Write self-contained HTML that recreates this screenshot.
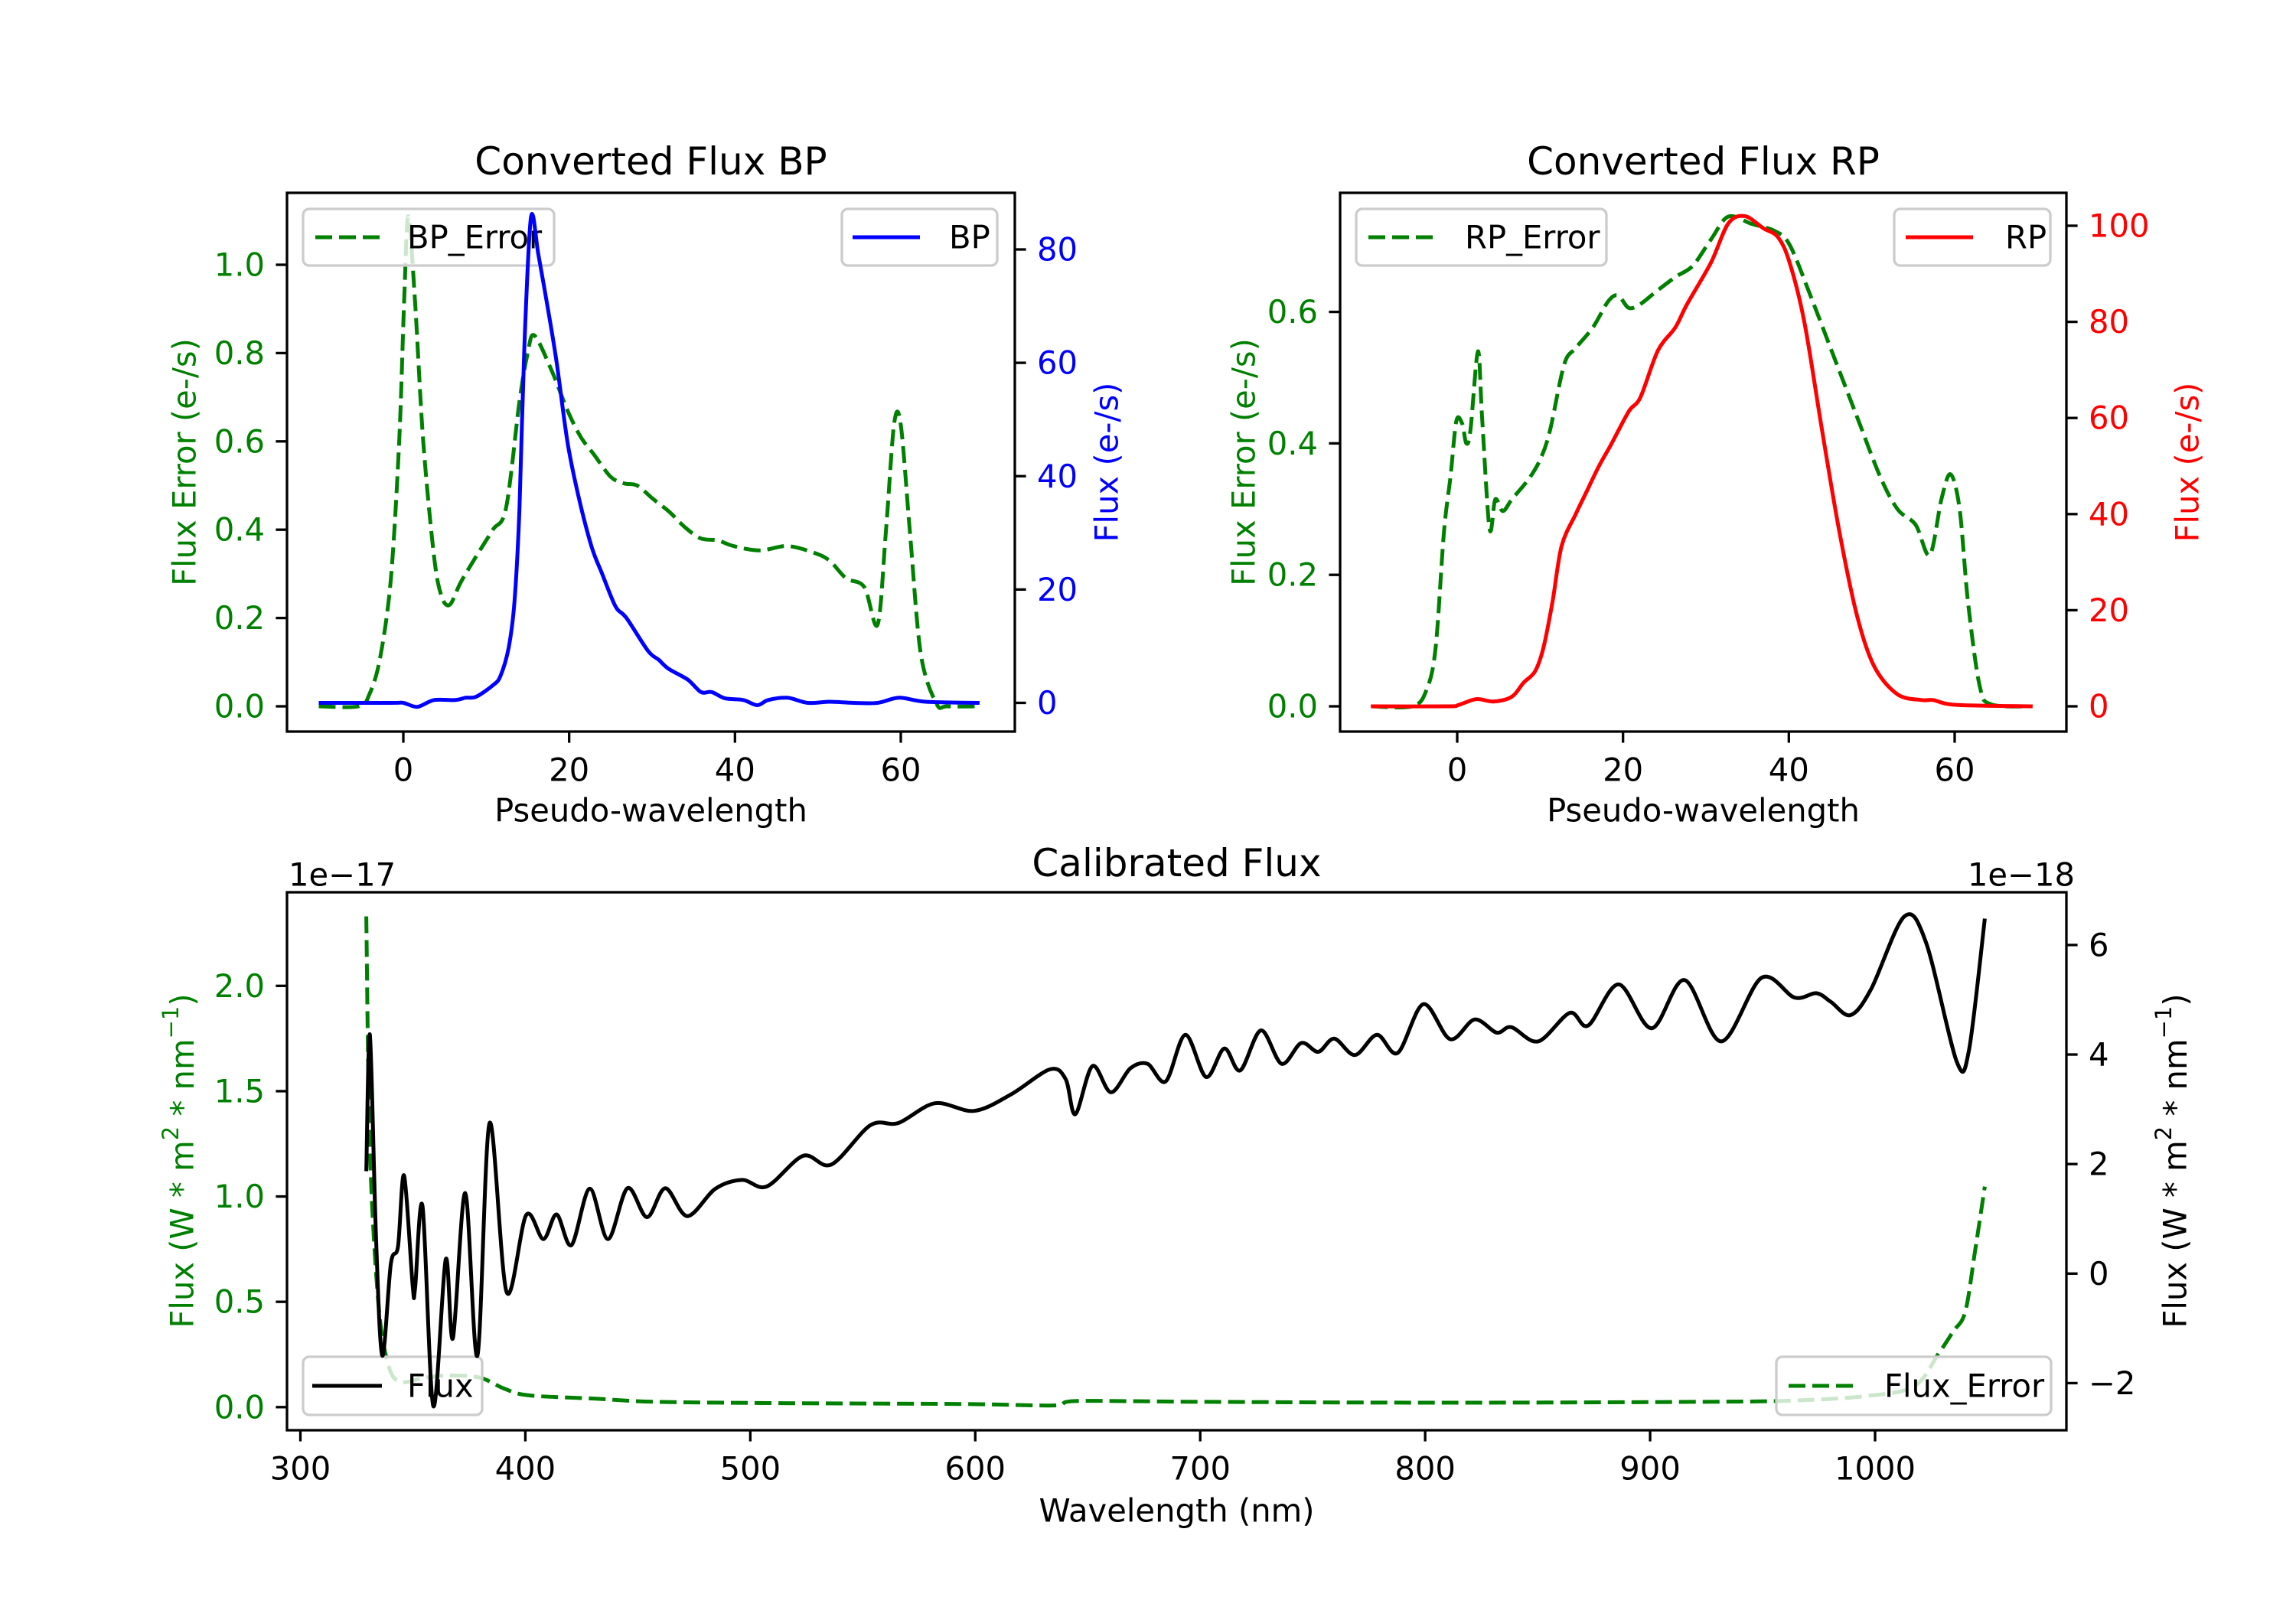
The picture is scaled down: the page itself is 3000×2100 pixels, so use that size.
<!DOCTYPE html>
<html><head><meta charset="utf-8">
<style>
html,body{margin:0;padding:0;background:#fff;}
svg{display:block;font-family:"DejaVu Sans","Liberation Sans",sans-serif;}
</style></head>
<body>
<svg id="fig" width="3000" height="2100" viewBox="0 0 3000 2100" xmlns="http://www.w3.org/2000/svg">
<rect width="3000" height="2100" fill="#fff"/>
</svg>
<script>
// ---- BP data ----
const bpX=[-10.2,-1.5,0,1.7,3.7,6.3,7.5,8.8,10.8,11.7,12.7,13.4,14,14.6,15.4,16.3,17.5,18.5,19.8,21.1,22.7,24,25.6,26.9,29.5,30.8,32,34.3,35.9,37.2,38.8,41,42.7,44,46.3,48.8,51.4,54.3,57.2,59.8,63,69.5];
const bpFlux=[0,0,0,-0.7,0.5,0.5,0.9,1.1,3.1,4.7,9.7,17.8,34,63,85.7,79,69,60,46,36.6,27.6,22.7,17,15,9.2,7.6,6,4.1,1.9,1.9,0.8,0.5,-0.4,0.5,0.9,0,0.2,0,0,0.9,0.2,0];
const bpErrX=[-10.2,-5.4,-4.1,-2.8,-1.5,-0.5,0.1,0.6,1.4,2.4,3.7,4.6,5.6,6.9,8.8,10.8,12.4,14,15,15.8,17.9,19.8,21.4,23,25,26.6,28.2,30.1,32.1,34,35.9,37.9,39.8,43,46.3,49.5,51.4,53.4,55.6,57.2,58.2,59.2,60,61.1,62.4,64.3,65.6,69.5];
const bpErr=[0,0,0.027,0.11,0.29,0.6,0.92,1.11,0.92,0.6,0.34,0.25,0.23,0.28,0.34,0.4,0.45,0.69,0.8,0.84,0.76,0.67,0.61,0.57,0.52,0.505,0.5,0.47,0.44,0.405,0.38,0.376,0.363,0.353,0.363,0.348,0.33,0.29,0.27,0.185,0.395,0.64,0.637,0.395,0.12,0.006,0,0];
// ---- RP data ----
const rpX=[-10.4,-1.2,0.2,2.3,4.4,6.6,8,9.4,10.4,11.5,12.6,14.3,15.7,17.1,18.6,20.7,22.1,24.2,26.3,27.7,30.6,32.7,34.7,36.9,38.7,40.1,41.9,44,46.1,48.2,50.3,53.1,56,57.4,60.2,69.4];
const rpFlux=[0,0,0.3,1.5,1,2,4.9,7.3,12.2,21.8,33.4,40,45,50,54.6,61.4,64.3,74,78.8,83.6,92.3,100.5,102,99.5,97.6,92.3,79.7,57.5,36.3,19,8.3,2.5,1.3,1.3,0.3,0];
const rpErrX=[-10.4,-5.4,-3.7,-2.6,-1.6,-0.8,-0.1,0.6,1.1,1.6,2.5,3.0,3.9,4.6,5.5,6.6,8.7,10.1,11.2,12.9,14.3,16.4,18.2,19.4,20.7,22.1,23.9,26.3,28.4,30.6,32.7,35.5,38.3,40.1,42.6,45.4,48.2,51.0,53.1,55.3,57,58.4,59.5,60.6,61.6,63,64.4,69.4];
const rpErr=[0,0,0.025,0.089,0.265,0.35,0.434,0.43,0.4,0.42,0.54,0.44,0.27,0.315,0.297,0.315,0.347,0.378,0.42,0.52,0.545,0.577,0.616,0.625,0.606,0.612,0.63,0.653,0.67,0.71,0.745,0.734,0.723,0.702,0.625,0.533,0.441,0.35,0.3,0.276,0.23,0.315,0.353,0.3,0.16,0.032,0.003,0];
// ---- Calibrated data ----
const calWl=[329.3,330.9,333.6,336.4,340.2,343.4,346.1,349.9,351,354.3,359.1,364.6,367.8,373.3,378.7,384.1,391.7,400.4,408,413.9,420.5,428.6,436.7,445.4,454.1,462.2,472,484.5,496.4,507.3,523.5,536,553.4,565.8,582.1,599.5,615.8,633.2,640.2,644.5,652.1,660.3,669,676.6,684.7,693.4,702.6,710.7,717.8,727,736.2,744.9,752.5,759.6,768.8,778.6,787.8,799.2,811.1,822,831.8,838.3,850.2,864.3,872.5,886,900.7,915.3,931.6,949.5,964.2,973.9,980.4,989.1,998.3,1013,1022.7,1036.3,1041.7,1048.8];
const calFlux=[1.87,4.36,0.67,-1.5,0.18,0.5,1.79,-0.22,-0.26,1.23,-2.42,0.26,-1.18,1.47,-1.5,2.75,-0.34,1.07,0.63,1.08,0.52,1.55,0.63,1.56,1.03,1.56,1.05,1.55,1.71,1.59,2.15,1.99,2.71,2.75,3.11,2.97,3.27,3.73,3.55,2.91,3.79,3.31,3.75,3.83,3.51,4.36,3.59,4.11,3.71,4.44,3.83,4.21,4.05,4.29,3.99,4.36,4.03,4.92,4.28,4.64,4.4,4.5,4.24,4.76,4.53,5.28,4.48,5.36,4.24,5.4,5.04,5.12,4.96,4.72,5.2,6.52,6.04,3.87,4.07,6.48];
const errWl=[329.3,330.9,334.7,339.1,344.5,355.3,366.2,379.8,390.6,401.5,431.3,458.4,512.7,594.1,634.8,645.6,702.6,811.1,919.6,963,995.6,1017.3,1028.2,1034.7,1040.1,1044.5,1048.8];
const calErr=[2.33,1.22,0.49,0.2,0.12,0.14,0.15,0.14,0.088,0.056,0.04,0.025,0.019,0.015,0.008,0.029,0.025,0.021,0.025,0.031,0.052,0.098,0.254,0.359,0.453,0.745,1.047];
// ---- ticks ----
const pwTicks=[0,20,40,60];
const bpLTicks=[0,0.2,0.4,0.6,0.8,1.0];
const bpRTicks=[0,20,40,60,80];
const rpLTicks=[0,0.2,0.4,0.6];
const rpRTicks=[0,20,40,60,80,100];
const wlTicks=[300,400,500,600,700,800,900,1000];
const calLTicks=[0,0.5,1.0,1.5,2.0];
const calRTicks=[-2,0,2,4,6];

const FS=41.7, TFS=50;
const NS="http://www.w3.org/2000/svg";
const svg=document.getElementById('fig');
function lin(d0,d1,p0,p1){return v=>p0+(v-d0)*(p1-p0)/(d1-d0);}
function el(tag,attrs,parent){const e=document.createElementNS(NS,tag);for(const k in attrs)e.setAttribute(k,attrs[k]);(parent||svg).appendChild(e);return e;}
function txt(s,x,y,size,fill,anchor,parent){const t=el('text',{x:x,y:y,'font-size':size,fill:fill,'text-anchor':anchor||'middle','dominant-baseline':'central'},parent);t.textContent=s;return t;}
function smoothPath(xs,ys,sx,sy){
  const P=xs.map((v,i)=>[sx(v),sy(ys[i])]);
  let d='M'+P[0][0].toFixed(1)+','+P[0][1].toFixed(1);
  for(let i=0;i<P.length-1;i++){
    const p0=P[Math.max(0,i-1)],p1=P[i],p2=P[i+1],p3=P[Math.min(P.length-1,i+2)];
    const t=0.16;
    const c1=[p1[0]+(p2[0]-p0[0])*t,p1[1]+(p2[1]-p0[1])*t];
    const c2=[p2[0]-(p3[0]-p1[0])*t,p2[1]-(p3[1]-p1[1])*t];
    d+=' C'+c1[0].toFixed(1)+','+c1[1].toFixed(1)+' '+c2[0].toFixed(1)+','+c2[1].toFixed(1)+' '+p2[0].toFixed(1)+','+p2[1].toFixed(1);
  }
  return d;
}
function clip(id,x0,y0,x1,y1){const c=el('clipPath',{id:id});el('rect',{x:x0,y:y0,width:x1-x0,height:y1-y0},c);}

function frame(x0,y0,x1,y1){
  const r=el('rect',{x:x0,y:y0,width:x1-x0,height:y1-y0,fill:'none',stroke:'#000','stroke-width':3.3});
  
  
}
function xTicks(ticks,sx,y1,fmt){
  const g=el('g',{});
  
  
  ticks.forEach(t=>{const x=sx(t);el('line',{x1:x,x2:x,y1:y1,y2:y1+14.6,stroke:'#000','stroke-width':3.3},g);txt(fmt?fmt(t):String(t),x,y1+50,FS,'#000','middle',g);});
}
function yTicks(ticks,sy,x,side,color,fmt,name){
  const g=el('g',{});
  
  
  ticks.forEach(t=>{const y=sy(t);const d=side==='left'?-14.6:14.6;el('line',{x1:x,x2:x+d,y1:y,y2:y,stroke:'#000','stroke-width':3.3},g);
    const s=fmt?fmt(t):String(t).replace('-','\u2212');
    txt(s,side==='left'?x-29:x+29,y,FS,color,side==='left'?'end':'start',g);});
}
function series(xs,ys,sx,sy,color,dashed,clipId,name){
  const p=el('path',{d:smoothPath(xs,ys,sx,sy),fill:'none',stroke:color,'stroke-width':5,'stroke-linejoin':'round','clip-path':'url(#'+clipId+')'});
  if(dashed)p.setAttribute('stroke-dasharray','22,9');
  
  
}
function legend(x0,y0,x1,y1,lx0,lx1,tx,label,color,dashed,name){
  const g=el('g',{});
  
  
  el('rect',{x:x0,y:y0,width:x1-x0,height:y1-y0,rx:8,fill:'#fff','fill-opacity':0.8,stroke:'#ccc','stroke-width':3.3},g);
  const yc=(y0+y1)/2;
  const l=el('line',{x1:lx0,x2:lx1,y1:yc,y2:yc,stroke:color,'stroke-width':5},g);
  if(dashed)l.setAttribute('stroke-dasharray','22,9');
  txt(label,tx,yc,FS,'#000','start',g);
}
function rotLabel(s,x,y,color,name){
  const t=txt(s,x,y,FS,color,'middle');
  t.setAttribute('transform','rotate(-90 '+x+' '+y+')');
  
  
  return t;
}
function label(s,x,y,size,anchor,name){
  const t=txt(s,x,y,size,'#000',anchor);
  
  
}
const f1=v=>v.toFixed(1);

// ===== BP =====
(function(){
  const X0=375,X1=1326,Y0=252,Y1=956;
  const sx=lin(0,60,527,1177), yl=lin(0,1,923,346), yr=lin(0,80,918.5,326);
  clip('cbp',X0,Y0,X1,Y1);
  series(bpErrX,bpErr,sx,yl,'#008000',true,'cbp','bp-error-line');
  legend(396,273,724,347,412,496,532,'BP_Error','#008000',true,'bp-error-legend');
  series(bpX,bpFlux,sx,yr,'#0000ff',false,'cbp','bp-flux-line');
  legend(1100,273,1303,347,1114,1202,1240,'BP','#0000ff',false,'bp-legend');
  frame(X0,Y0,X1,Y1);
  xTicks(pwTicks,sx,Y1);
  yTicks(bpLTicks,yl,X0,'left','#008000',f1,'bp-left-ticks');
  yTicks(bpRTicks,yr,X1,'right','#0000ff',null,'bp-right-ticks');
  label('Converted Flux BP',(X0+X1)/2,211,TFS,'middle','bp-title');
  label('Pseudo-wavelength',(X0+X1)/2,1059,FS,'middle','bp-x-axis-title');
  rotLabel('Flux Error (e-/s)',241,604,'#008000','bp-left-axis-title');
  rotLabel('Flux (e-/s)',1446,604,'#0000ff','bp-right-axis-title');
})();
// ===== RP =====
(function(){
  const X0=1751,X1=2700,Y0=252,Y1=956;
  const sx=lin(0,60,1904,2554), yl=lin(0,0.6,923,407.6), yr=lin(0,100,923,295);
  clip('crp',X0,Y0,X1,Y1);
  series(rpErrX,rpErr,sx,yl,'#008000',true,'crp','rp-error-line');
  legend(1772,273,2099,347,1788,1873,1914,'RP_Error','#008000',true,'rp-error-legend');
  series(rpX,rpFlux,sx,yr,'#ff0000',false,'crp','rp-flux-line');
  legend(2475,273,2679,347,2490,2578,2620,'RP','#ff0000',false,'rp-legend');
  frame(X0,Y0,X1,Y1);
  xTicks(pwTicks,sx,Y1);
  yTicks(rpLTicks,yl,X0,'left','#008000',f1,'rp-left-ticks');
  yTicks(rpRTicks,yr,X1,'right','#ff0000',null,'rp-right-ticks');
  label('Converted Flux RP',(X0+X1)/2,211,TFS,'middle','rp-title');
  label('Pseudo-wavelength',(X0+X1)/2,1059,FS,'middle','rp-x-axis-title');
  rotLabel('Flux Error (e-/s)',1625,604,'#008000','rp-left-axis-title');
  rotLabel('Flux (e-/s)',2858,604,'#ff0000','rp-right-axis-title');
})();
// ===== Calibrated =====
(function(){
  const X0=375,X1=2700,Y0=1166,Y1=1869;
  const sx=lin(300,1000,392.5,2450), yl=lin(0,2,1838.8,1288.3), yr=lin(0,6,1664.3,1234.9);
  clip('ccal',X0,Y0,X1,Y1);
  series(errWl,calErr,sx,yl,'#008000',true,'ccal','flux-error-line');
  legend(2321,1773,2680,1849,2337,2421,2462,'Flux_Error','#008000',true,'flux-error-legend');
  legend(396,1773,630,1849,408,499,532,'Flux','#000',false,'flux-legend');
  series(calWl,calFlux,sx,yr,'#000',false,'ccal','flux-line');
  frame(X0,Y0,X1,Y1);
  xTicks(wlTicks,sx,Y1);
  yTicks(calLTicks,yl,X0,'left','#008000',f1,'cal-left-ticks');
  yTicks(calRTicks,yr,X1,'right','#000',null,'cal-right-ticks');
  label('Calibrated Flux',(X0+X1)/2,1128,TFS,'middle','cal-title');
  label('1e\u221217',377,1143,FS,'start','left-offset-label');
  label('1e\u221218',2711,1143,FS,'end','right-offset-label');
  label('Wavelength (nm)',(X0+X1)/2,1974,FS,'middle','cal-x-axis-title');
  const sup='<tspan font-size="29" dy="-15">2</tspan><tspan dy="15"> * nm</tspan><tspan font-size="29" dy="-15">\u22121</tspan><tspan dy="15">)</tspan>';
  const l=rotLabel('',238,1517,'#008000','cal-left-axis-title');
  l.innerHTML='Flux (W * m'+sup;
  const r=rotLabel('',2842,1517,'#000','cal-right-axis-title');
  r.innerHTML='Flux (W * m'+sup;
})();
</script>
</body></html>
